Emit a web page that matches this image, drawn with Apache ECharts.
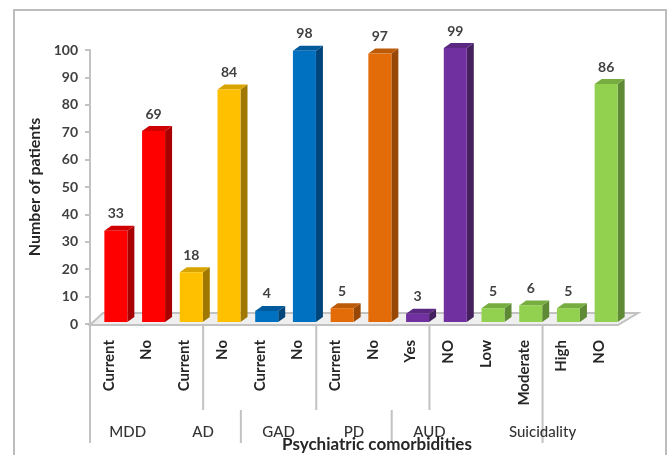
<!DOCTYPE html>
<html>
<head>
<meta charset="utf-8">
<style>html,body{margin:0;padding:0;background:#fff}#chart{width:671px;height:455px}</style>
<script src="https://cdn.jsdelivr.net/npm/echarts@6/dist/echarts.min.js"></script>
</head>
<body>
<div id="chart"></div>
<script>
// Psychiatric comorbidities: patient counts per condition and status
const categories = ['Current','No','Current','No','Current','No','Current','No','Yes','NO','Low','Moderate','High','NO'];
const patients = [33,69,18,84,4,98,5,97,3,99,5,6,5,86];
const frontColors = ['#FF0000','#FF0000','#FFC000','#FFC000','#0070C0','#0070C0','#E36C09','#E36C09','#7030A0','#7030A0','#92D050','#92D050','#92D050','#92D050'];
const sideColors = ['#A80000','#A80000','#A07800','#A07800','#00467A','#00467A','#974806','#974806','#45205F','#45205F','#5F8A35','#5F8A35','#5F8A35','#5F8A35'];
const topColors = ['#D00000','#D00000','#D9A300','#D9A300','#005A9C','#005A9C','#BC5A08','#BC5A08','#5A2782','#5A2782','#76AC40','#76AC40','#76AC40','#76AC40'];
// Group names and the category position each one is centred on
const groupNames = ['MDD','AD','GAD','PD','AUD','Suicidality'];
const groupCentres = [1,3,5,7,9,12];
// Divider positions, counted in category bands from the axis start
const longDividers = [3,6,9];
const tallDividers = [0,12];
const lowerDividers = [4,8];
const yTicks = {min:0,max:100,step:10};

// The bars stand on a floor that recedes up and to the right of the axis
const BAR_SHIFT = 7, DEPTH_X = 7, DEPTH_Y = 5, LIFT = 2, RISE = 1.01, GREY = '#C2C2C2', INK = '#404040';

function poly(points, fill) {
  return {type:'polygon', shape:{points}, style:{fill}};
}
function renderBar(params, api) {
  const i = api.value(0), v = api.value(1);
  const base = api.coord([i,0]), top = api.coord([i,v]);
  const w = api.size([1,0])[0] * 0.61, cx = base[0]+BAR_SHIFT;
  const l = cx-w/2, r = cx+w/2, b = base[1]-LIFT, t = b-(base[1]-top[1])*RISE;
  return {type:'group', children:[
    poly([[r,t],[r+DEPTH_X,t-DEPTH_Y],[r+DEPTH_X,b-DEPTH_Y],[r,b]], sideColors[i]),
    poly([[l,t],[l+DEPTH_X,t-DEPTH_Y],[r+DEPTH_X,t-DEPTH_Y],[r,t]], topColors[i]),
    poly([[l,b],[l,t],[r,t],[r,b]], frontColors[i]),
    {type:'text', style:{text:String(v), x:cx, y:t-17, align:'center', verticalAlign:'middle',
      font:'bold 14px Lato', fill:INK}}
  ]};
}
function renderFloor(params, api) {
  const o = api.coord([0,0]), band = api.size([1,0])[0];
  const x0 = o[0]-band/2, x1 = x0+band*14, y = o[1]+1;
  return {type:'polygon', shape:{points:[[x0,y],[x0+13,y-12],[x1+20,y-12],[x1,y]]},
    style:{fill:'#EFEFEF', stroke:GREY, lineWidth:2}};
}
function renderDividers(params, api) {
  const o = api.coord([0,0]), band = api.size([1,0])[0];
  const at = k => o[0]-band/2+band*k;
  const line = (k,y1,y2) => ({type:'line', shape:{x1:at(k),y1:y1,x2:at(k),y2:y2},
    style:{stroke:GREY, lineWidth:2}});
  const kids = [];
  longDividers.forEach(k => kids.push(line(k,o[1],410)));
  tallDividers.forEach(k => kids.push(line(k,o[1],443)));
  lowerDividers.forEach(k => kids.push(line(k,410,443)));
  groupNames.forEach((n,g) => kids.push({type:'text', style:{text:n, x:at(groupCentres[g]), y:432,
    align:'center', verticalAlign:'middle', font:'500 15px Lato', fill:'#333'}}));
  return {type:'group', children:kids};
}

const chart = echarts.init(document.getElementById('chart'), null, {renderer:'canvas'});
chart.setOption({
  animation:false,
  backgroundColor:'#fff',
  grid:{left:90, right:53, top:50, bottom:131, containLabel:false},
  title:{text:'Psychiatric comorbidities', left:377, top:436, textAlign:'center',
    textStyle:{fontFamily:'Lato', fontWeight:'bold', fontSize:17, color:'#262626'}, padding:0},
  graphic:[{type:'polyline', silent:true, shape:{points:[[14,455],[14,10],[666,10],[666,455]]},
    style:{stroke:'#BDBDBD', lineWidth:2, fill:null}}],
  xAxis:{type:'category', data:categories, boundaryGap:true,
    axisLine:{show:false}, axisTick:{show:false},
    axisLabel:{rotate:90, interval:0, margin:16, color:'#262626', fontFamily:'Lato', fontWeight:'bold', fontSize:15}},
  yAxis:{type:'value', min:yTicks.min, max:yTicks.max, interval:yTicks.step,
    name:'Number of patients', nameLocation:'middle', nameGap:47,
    nameTextStyle:{fontFamily:'Lato', fontWeight:'bold', fontSize:16, color:'#262626'},
    splitLine:{show:false},
    axisLine:{show:true, lineStyle:{color:GREY, width:2}},
    axisTick:{show:true, length:5, lineStyle:{color:GREY, width:2}},
    axisLabel:{margin:12, color:INK, fontFamily:'Lato', fontWeight:'bold', fontSize:14}},
  series:[
    {type:'custom', z:1, renderItem:renderFloor, data:[[0,0]], encode:{x:0,y:1}, silent:true},
    {type:'custom', z:1, renderItem:renderDividers, data:[[0,0]], encode:{x:0,y:1}, silent:true},
    {type:'custom', z:2, renderItem:renderBar, data:patients.map((v,i)=>[i,v]), encode:{x:0,y:1}}
  ]
});
</script>
</body>
</html>
